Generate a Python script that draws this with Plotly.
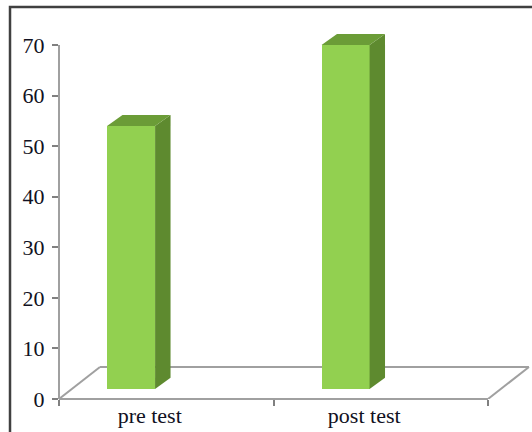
import plotly.graph_objects as go

categories = ["pre test", "post test"]
scores = [52, 68]
y_ticks = [0, 10, 20, 30, 40, 50, 60, 70]

# geometry of the pseudo-3D drawing (axis units)
FLOOR_DX, FLOOR_DY = 0.191, 6.33     # depth of the floor
BAR_BASE = 2.0                       # bars stand a little back on the floor
BAR_LEFT, BAR_W = -0.276, 0.224      # front face, relative to category centre
SIDE_DX, SIDE_DY = 0.072, 2.18       # bar depth
LABEL_SHIFT = -0.077

FRONT = "#92D050"
SIDE = "#5E8A2F"
TOP = "#6B9C37"
GRID = "#A0A0A0"
TXT = "#111122"

fig = go.Figure()

xs = list(range(len(categories)))

# front faces
fig.add_trace(go.Bar(
    x=[i + BAR_LEFT + BAR_W / 2 for i in xs], y=scores, base=BAR_BASE,
    width=BAR_W, marker=dict(color=FRONT, line=dict(width=0)),
    hoverinfo="skip", showlegend=False))

# side and top faces
for i, v in zip(xs, scores):
    xl = i + BAR_LEFT
    xr = xl + BAR_W
    b = BAR_BASE
    t = BAR_BASE + v
    fig.add_trace(go.Scatter(
        x=[xr, xr + SIDE_DX, xr + SIDE_DX, xr, xr],
        y=[b, b + SIDE_DY, t + SIDE_DY, t, b],
        fill="toself", fillcolor=SIDE, mode="lines", line=dict(width=0, color=SIDE),
        hoverinfo="skip", showlegend=False))
    fig.add_trace(go.Scatter(
        x=[xl, xr, xr + SIDE_DX, xl + SIDE_DX, xl],
        y=[t, t, t + SIDE_DY, t + SIDE_DY, t],
        fill="toself", fillcolor=TOP, mode="lines", line=dict(width=0, color=TOP),
        hoverinfo="skip", showlegend=False))

n = len(categories)
x0, x1 = -0.5, n - 0.5
shapes = [
    # y axis line (paper x so it is not clipped at the plot edge)
    dict(type="line", xref="paper", yref="y", x0=0, x1=0, y0=0, y1=y_ticks[-1],
         line=dict(color=GRID, width=2), layer="below"),
    # floor
    dict(type="line", xref="x", yref="paper", x0=x0, x1=x1, y0=0, y1=0,
         line=dict(color=GRID, width=2), layer="below"),
    dict(type="line", xref="x", yref="y", x0=x0 + FLOOR_DX, x1=x1 + FLOOR_DX,
         y0=FLOOR_DY, y1=FLOOR_DY, line=dict(color=GRID, width=2), layer="below"),
    dict(type="line", xref="x", yref="y", x0=x0, x1=x0 + FLOOR_DX, y0=0, y1=FLOOR_DY,
         line=dict(color=GRID, width=2), layer="below"),
    dict(type="line", xref="x", yref="y", x0=x1, x1=x1 + FLOOR_DX, y0=0, y1=FLOOR_DY,
         line=dict(color=GRID, width=2), layer="below"),
    # outer frame (top and left visible)
    dict(type="rect", xref="paper", yref="paper", x0=-0.1038, x1=1.2, y0=-0.3, y1=1.048,
         line=dict(color="#404040", width=2.5), layer="above"),
]

fig.update_layout(
    width=532, height=432,
    margin=dict(l=59, r=1, t=25, b=33),
    paper_bgcolor="white", plot_bgcolor="white",
    bargap=0,
    shapes=shapes,
    xaxis=dict(range=[-0.5, 1.7005], showgrid=False, zeroline=False, showline=False,
               tickmode="array", tickvals=[x0 + k for k in range(n + 1)],
               ticktext=["" for _ in range(n + 1)],
               ticks="outside", ticklen=6, tickwidth=1.5, tickcolor="#808080"),
    xaxis2=dict(range=[-0.5, 1.7005], overlaying="x", side="bottom", showgrid=False,
                zeroline=False, showline=False, tickmode="array",
                tickvals=[i + LABEL_SHIFT for i in xs], ticktext=categories,
                ticks="", ticklabelstandoff=1,
                tickfont=dict(family="Liberation Serif", size=22, color=TXT)),
    yaxis=dict(range=[0, 73.96], showgrid=False, zeroline=False, showline=False,
               tickmode="array", tickvals=y_ticks,
               ticks="outside", ticklen=6, tickwidth=1.5, tickcolor="#808080",
               ticklabelstandoff=3,
               tickfont=dict(family="Liberation Serif", size=22, color=TXT)),
)

# dummy invisible trace to activate xaxis2
fig.add_trace(go.Scatter(x=[0], y=[0], xaxis="x2", mode="markers",
                         marker=dict(opacity=0), hoverinfo="skip", showlegend=False))

fig.write_html("out.html")
